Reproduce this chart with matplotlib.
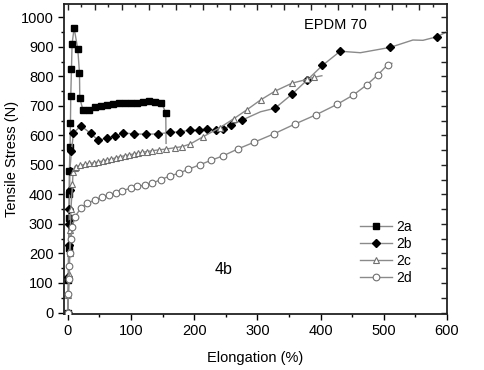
import numpy as np
import matplotlib
matplotlib.use('Agg')
import matplotlib.pyplot as plt

plt.rcParams['font.family'] = ['Liberation Sans', 'DejaVu Sans']

# series 2a (filled squares); last point is line only
x_2a = [0, 0.8, 1.2, 1.6, 2.0, 2.5, 3.6, 4.2, 4.7, 5.8, 6.8, 10, 15.8, 18.5, 19, 24, 33,
        43.7, 53, 62.6, 72, 81, 91, 100.6, 110, 119, 128.5, 138.6, 148, 155, 155.5]
y_2a = [0, 110, 220, 320, 400, 480, 562, 641, 733, 824, 910, 964, 892, 812, 726, 686, 686,
        695, 700, 703, 706, 708, 708, 711, 711, 714, 717, 714, 711, 677, 573]
nomark_2a = [30]

# series 2b (filled diamonds)
x_2b = [0, 1, 1.5, 2, 2.5, 3, 3.2, 5.8, 9, 21, 36, 48.5, 61.6, 74.7, 88, 105, 124, 143,
        161, 178, 193, 207, 220.5, 234, 246, 259, 275, 305, 328, 355, 379, 403, 431, 463,
        510, 546, 562, 584, 600]
y_2b = [0, 120, 230, 300, 351, 415, 480, 547, 609, 632, 607, 583, 591, 597, 608, 605, 604, 605,
        610, 612, 618, 618, 621, 617, 621, 635, 651, 680, 692, 740, 788, 837, 885, 880,
        898, 923, 922, 934, 951]
nomark_2b = [27, 33, 35, 36, 38]

# series 2c (open triangles)
x_2c = [0, 1, 2, 3, 4, 5, 7.4, 8.4, 11, 13.7, 20, 27, 34, 41, 48, 55, 62, 69, 76, 83, 90,
        97, 104, 111, 118, 125, 133.7, 144, 156, 169, 181, 194, 213.7, 240.5, 263, 283.6,
        305, 328, 355, 379, 390, 402]
y_2c = [0, 60, 130, 200, 280, 350, 435, 477, 490, 494, 498, 502, 505, 507, 510, 513, 517,
        520, 524, 528, 531, 534, 537, 540, 543, 545, 548, 551, 554, 558, 562, 571, 595, 626,
        657, 687, 720, 750, 777, 790, 797, 802]
nomark_2c = [41]

# series 2d (open circles)
x_2d = [0, 1, 2, 2.5, 3, 5, 7, 11.5, 20.5, 31, 42.6, 53.7, 65, 75.8, 86, 99.5, 110, 122,
        133.7, 147, 161, 176, 190.5, 208.4, 226, 246, 269, 295, 326, 359, 393, 426, 452,
        473, 490.6, 506, 512.7]
y_2d = [0, 63, 114, 159, 203, 248, 289, 325, 353, 370, 381, 391, 397, 406, 413, 421, 427, 432,
        438, 450, 462, 472, 485, 500, 515, 531, 554, 577, 605, 638, 670, 705, 737,
        771, 805, 839, 844]
nomark_2d = [36]

fig = plt.figure(figsize=(4.85, 3.70), dpi=100)
ax = fig.add_axes([64 / 485, 1 - 314 / 370, (447 - 64) / 485, (314 - 4) / 370])

line_col = '#8a8a8a'


def marks(n, skip):
    return [i for i in range(n) if i not in skip]


ax.plot(x_2a, y_2a, color=line_col, lw=1, marker='s', ms=4.2, mfc='black', mec='black',
        markevery=marks(len(x_2a), nomark_2a), label='2a', zorder=3)
ax.plot(x_2b, y_2b, color=line_col, lw=1, marker='D', ms=4.3, mfc='black', mec='black',
        markevery=marks(len(x_2b), nomark_2b), label='2b', zorder=3)
ax.plot(x_2c, y_2c, color=line_col, lw=1, marker='^', ms=5, mfc='white', mec='#707070',
        mew=0.8, markevery=marks(len(x_2c), nomark_2c), label='2c', zorder=3)
ax.plot(x_2d, y_2d, color=line_col, lw=1, marker='o', ms=4.8, mfc='white', mec='#707070',
        mew=0.8, markevery=marks(len(x_2d), nomark_2d), label='2d', zorder=3)

xlim = (-6, 600)
ylim = (-5, 1045)
ax.set_xlim(*xlim)
ax.set_ylim(*ylim)
ax.set_xticks(np.arange(0, 601, 100))
ax.set_xticks(np.arange(50, 600, 100), minor=True)
ax.set_yticks(np.arange(0, 1001, 100))
ax.set_yticks(np.arange(50, 1001, 100), minor=True)
ax.tick_params(which='major', direction='out', length=4, width=1, labelsize=10.5, colors='black')
ax.tick_params(which='minor', direction='out', length=2.5, width=1)

for s in ax.spines.values():
    s.set_linewidth(1.3)
    s.set_color('#222222')

# right axis ticks (inward)
ry = ax.twinx()
ry.set_ylim(*ylim)
ry.set_yticks(np.arange(0, 1001, 50))
ry.tick_params(direction='in', length=4, width=1, labelright=False, color='#222222')

# top axis ticks (inward, own spacing)
tx = ax.twiny()
tx.set_xlim(*xlim)
tx.set_xticks(np.arange(0, 590, 42.8))
tx.set_xticks(np.arange(21.4, 590, 42.8), minor=True)
tx.tick_params(which='major', direction='in', length=4, width=1, labeltop=False, color='#222222')
tx.tick_params(which='minor', direction='in', length=2.5, width=1, color='#222222')
for t in (ry, tx):
    for s in t.spines.values():
        s.set_visible(False)

ax.set_xlabel('Elongation (%)', fontsize=10.5, labelpad=9)
ax.set_ylabel('Tensile Stress (N)', fontsize=10.5, labelpad=1)

ax.text(423, 974, 'EPDM 70', fontsize=10.5, ha='center', va='center')
ax.text(247, 145, '4b', fontsize=11.5, ha='center', va='center')

ax.legend(loc='upper left', bbox_to_anchor=(353 / 485, 1 - 213 / 370),
          bbox_transform=fig.transFigure, frameon=False, fontsize=10,
          handlelength=2.3, handletextpad=0.3, labelspacing=0.22, borderpad=0)

fig.savefig('out.png', dpi=100)
